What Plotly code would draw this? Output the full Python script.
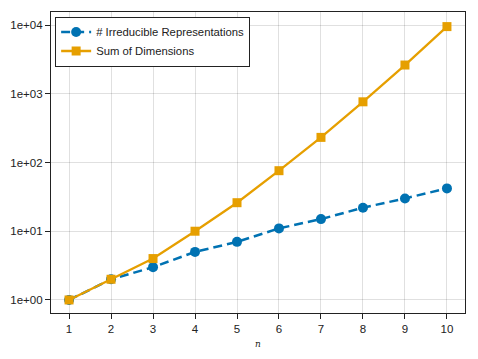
import plotly.graph_objects as go

n_values = [1, 2, 3, 4, 5, 6, 7, 8, 9, 10]
irreps = [1, 2, 3, 5, 7, 11, 15, 22, 30, 42]
sum_dims = [1, 2, 4, 10, 26, 76, 232, 764, 2620, 9496]

blue = "#0072B2"
orange = "#E69F00"
font = "Liberation Sans, Arial, sans-serif"

fig = go.Figure()
fig.add_trace(go.Scatter(
    x=n_values, y=irreps, mode="lines+markers",
    name="# Irreducible Representations",
    line=dict(color=blue, width=2.5, dash="9px,5px"),
    marker=dict(symbol="circle", size=10, color=blue),
))
fig.add_trace(go.Scatter(
    x=n_values, y=sum_dims, mode="lines+markers",
    name="Sum of Dimensions",
    line=dict(color=orange, width=2.3),
    marker=dict(symbol="square", size=9, color=orange),
))

axis_common = dict(
    showline=True, linecolor="#222", linewidth=1.2, mirror=True,
    ticks="outside", ticklen=5, tickcolor="#222",
    showgrid=True, gridcolor="rgba(0,0,0,0.12)", gridwidth=1,
    zeroline=False, automargin=False,
    tickfont=dict(family=font, size=11.5, color="#222"),
)

fig.update_xaxes(
    range=[0.57, 10.43], tickvals=n_values,
    title=dict(text="<i>n</i>", font=dict(family="DejaVu Serif", size=9, color="#222"), standoff=6),
    **axis_common,
)
fig.update_yaxes(
    type="log", range=[-0.19, 4.19],
    tickvals=[1, 10, 100, 1000, 10000],
    ticktext=["1e+00", "1e+01", "1e+02", "1e+03", "1e+04"],
    **axis_common,
)

fig.update_layout(
    width=478, height=359,
    margin=dict(l=51, r=13, t=12, b=46),
    paper_bgcolor="white", plot_bgcolor="white",
    showlegend=True,
    legend=dict(
        x=0.01, y=0.985, xanchor="left", yanchor="top",
        bgcolor="white", bordercolor="#222", borderwidth=1,
        font=dict(family=font, size=11.3, color="#222"),
        itemwidth=30, tracegroupgap=0,
    ),
)

# the default page has an 8px body margin; drop it so the figure sits at 0,0
fig.write_html(
    "out.html",
    config={"displayModeBar": False},
    post_script="document.body.style.margin='0';",
)
